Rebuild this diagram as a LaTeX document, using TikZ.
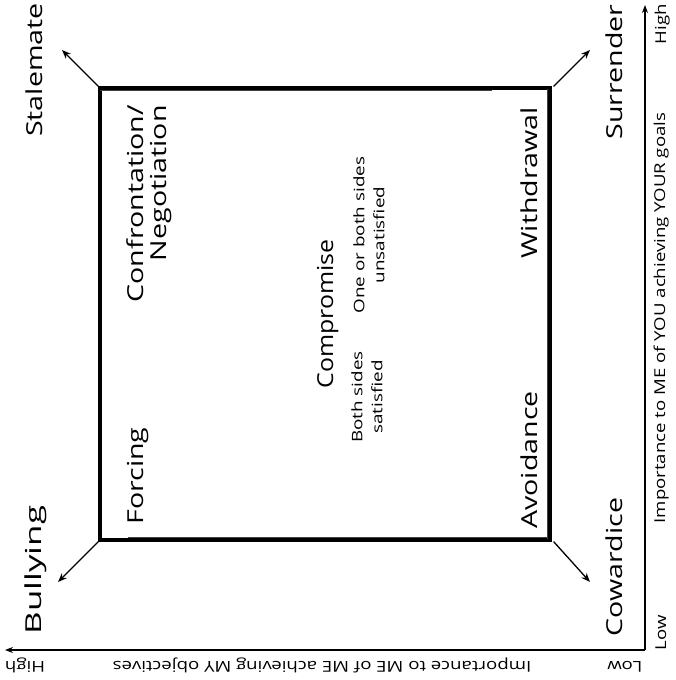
\documentclass[tikz,border=0pt]{standalone}
\usepackage{fontspec}
\usepackage{graphicx}
\setmainfont{Open Sans}
% wide, hand-lettered proportions
\newfontfamily\handwide[FakeStretch=1.3]{Open Sans}
\newfontfamily\axiswide[FakeStretch=1.24]{Open Sans}
\usetikzlibrary{arrows.meta}

\begin{document}
\begin{tikzpicture}[x=1pt,y=-1pt,
  big/.style={font=\handwide\fontsize{22}{23}\selectfont, rotate=90, inner sep=0pt},
  note/.style={font=\handwide\fontsize{14.5}{20}\selectfont, rotate=90, inner sep=0pt, align=center},
  axislabel/.style={font=\axiswide\fontsize{15}{17}\selectfont, inner sep=0pt},
  corner/.style={-{Stealth[length=9pt,width=7pt]}, line width=1.3pt},
  axisline/.style={-{Stealth[length=8pt,width=6pt]}, line width=1.1pt},
  grid/.style={draw, line width=3.2pt, minimum width=450pt, minimum height=452pt, inner sep=0pt}
]
\useasboundingbox (0,0) rectangle (675,680);

% the strategy grid with a second, lighter stroke for a hand-drawn look
\node[grid] (box) at (325,314) {};
\draw[line width=0.9pt, black!75] ([shift={(2,4.5)}]box.north west) -- ([shift={(-60,4.5)}]box.north east);
\draw[line width=0.9pt, black!75] ([shift={(-4.5,3)}]box.north east) -- ([shift={(-4.5,-3)}]box.south east);
\draw[line width=0.9pt, black!75] ([shift={(30,-4.5)}]box.south west) -- ([shift={(-4.5,-4.5)}]box.south east);

% outcome arrows from the corners
\coordinate (tl) at (62,50);
\coordinate (tr) at (590,50);
\coordinate (bl) at (58,582);
\coordinate (br) at (590,582);
\draw[corner] (box.north west) -- (tl);
\draw[corner] ([xshift=2pt]box.north east) -- (tr);
\draw[corner] (box.south west) -- (bl);
\draw[corner] ([xshift=2pt]box.south east) -- (br);

% outcome labels
\node[big, anchor=base] (stale) at (42,70) {Stalemate};
\node[big, anchor=base] (surr) at (622,72) {Surrender};
\node[big, anchor=base] (bully) at (41,570) {\scalebox{1.22}[1]{Bullying}};
\node[big, anchor=base] (coward) at (622,567) {Cowardice};

% strategies inside the grid
\node[big, align=right, anchor=east] (conf) at (149,105) {Confrontation/\\Negotiation};
\node[big, anchor=base] (forc) at (143,476) {Forcing};
\node[big, anchor=base] (withd) at (537,183) {Withdrawal};
\node[big, anchor=base] (avoid) at (537,460) {Avoidance};
\node[big, anchor=base] (comp) at (333,314) {\scalebox{0.87}[1]{Compromise}};
\node[note] (sat) at (367,397) {Both sides\\satisfied};
\node[note] (unsat) at (369,235) {One or both sides\\unsatisfied};

% axes
\coordinate (origin) at (645,650);
\coordinate (ytip) at (645,5);
\coordinate (xtip) at (5,650);
\draw[axisline] (origin) -- (ytip);
\draw[axisline] (origin) -- (xtip);

\node[axislabel, rotate=90, anchor=base] (ylab) at (665,318) {Importance to ME of YOU achieving YOUR goals};
\node[axislabel, rotate=90, anchor=base] (yhigh) at (666,24) {High};
\node[axislabel, rotate=90, anchor=base] (ylow) at (666,633) {Low};
\node[axislabel, rotate=180, anchor=base] (xlab) at (322,661) {Importance to ME of ME achieving MY objectives};
\node[axislabel, rotate=180, anchor=base] (xhigh) at (25,661) {High};
\node[axislabel, rotate=180, anchor=base] (xlow) at (625,661) {Low};
\end{tikzpicture}
\end{document}
